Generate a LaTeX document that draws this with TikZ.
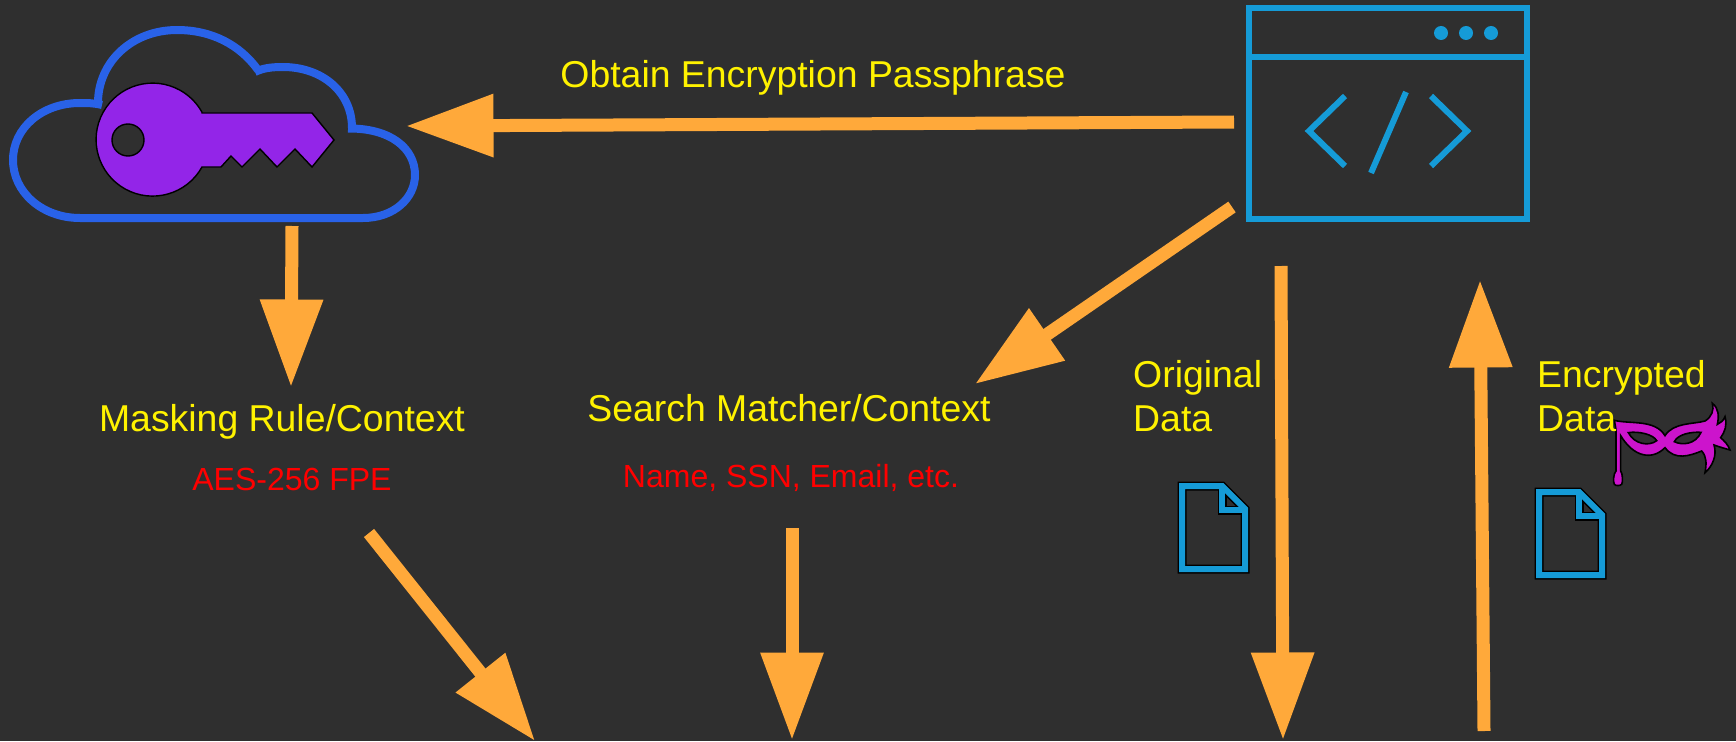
\documentclass[tikz,border=0pt]{standalone}
\usepackage{fontspec}
\setmainfont{Liberation Sans}
\usetikzlibrary{arrows.meta}
\definecolor{bgc}{HTML}{2F2F2F}
\definecolor{orangec}{HTML}{FFA93A}
\definecolor{cloudc}{HTML}{2962E8}
\definecolor{keyc}{HTML}{9325E8}
\definecolor{codec}{HTML}{159BD7}
\definecolor{maskc}{HTML}{CC14CC}
\tikzset{
  flow/.style={draw=orangec,line width=13pt,-{Triangle[length=87.5pt,width=60pt,fill=orangec]}},
  yellowtext/.style={text=yellow,font=\fontsize{37.4}{44}\selectfont,inner sep=0pt},
  yellowleft/.style={yellowtext,anchor=base west,align=left},
  redtext/.style={text=red,font=\fontsize{32}{38}\selectfont,inner sep=0pt},
  codeline/.style={draw=codec,line width=6pt,miter limit=10},
  cloudline/.style={draw=cloudc,line width=8pt,line join=miter},
  docicon/.pic={
    \draw[black,line width=9pt,line join=miter] (1182,486)--(1222,486)--(1245,509)--(1245,569)--(1182,569)--cycle;
    \draw[black,line width=9pt,line join=miter] (1222,486)--(1222,510)--(1245,510);
    \draw[codec,line width=6pt,line join=miter] (1182,486)--(1222,486)--(1245,509)--(1245,569)--(1182,569)--cycle;
    \draw[codec,line width=6pt,line join=miter] (1222,486)--(1222,510)--(1245,510);
  },
}
\begin{document}
\begin{tikzpicture}[x=1pt,y=-1pt]
\useasboundingbox (0,0) rectangle (1736,741);
\fill[bgc] (0,0) rectangle (1736,741);
% cloud
\draw[cloudline] (80,218) -- (363,218)
  .. controls (394,218) and (415,198) .. (415,175)
  .. controls (415,148) and (390,128) .. (348,128.5)
  (352,128) .. controls (352,92) and (322,67) .. (283,67)
  .. controls (272,67) and (263,68) .. (255,72)
  (258,70) .. controls (240,45) and (212,30) .. (177,30)
  .. controls (132,30) and (98,62) .. (98,103)
  (102,105) .. controls (94,103) and (87,103) .. (80,103)
  .. controls (42,103) and (13,128) .. (13,160)
  .. controls (13,192) and (42,218) .. (80,218);
% key
\path[draw=black,line width=1.4pt,fill=keyc,even odd rule]
  (202,113) -- (312,113) -- (334,140) -- (312,167) -- (295,149) -- (277,167) -- (260,149) -- (242,167) -- (231,156) -- (221,167) -- (202,167)
  arc[start angle=29,end angle=331,radius=56.5] -- cycle
  (128,140) circle[radius=16];
% code window
\draw[codeline] (1249,8) rectangle (1527,219);
\draw[codeline] (1249,57) -- (1527,57);
\fill[codec] (1441,33) circle[radius=7] (1466,33) circle[radius=7] (1491,33) circle[radius=7];
\draw[codeline] (1345,96) -- (1309,131) -- (1345,166);
\draw[codeline] (1431,96) -- (1467,131) -- (1431,166);
\draw[codeline] (1406,92) -- (1371,173);
% docs
\pic at (0,0) {docicon};
\pic at (357,6) {docicon};
% mask
\begin{scope}[shift={(1605,395)},x=0.3333pt,y=-0.3333pt]
\path[draw=black,line width=1.6pt,fill=maskc,even odd rule]
  (28,76) .. controls (75,88) and (150,72) .. (180,122)
  .. controls (205,82) and (265,88) .. (300,78)
  .. controls (320,66) and (328,45) .. (322,25)
  .. controls (342,40) and (342,65) .. (337,88)
  .. controls (347,83) and (355,78) .. (360,65)
  .. controls (367,90) and (360,110) .. (347,128)
  .. controls (358,138) and (370,150) .. (375,165)
  .. controls (358,160) and (340,155) .. (327,150)
  .. controls (337,180) and (322,215) .. (300,233)
  .. controls (305,205) and (305,185) .. (290,168)
  .. controls (255,182) and (210,198) .. (180,158)
  .. controls (140,198) and (85,185) .. (47,122)
  -- (47,228) .. controls (53,235) and (54,262) .. (50,268)
  .. controls (45,273) and (32,273) .. (28,268)
  .. controls (24,262) and (25,235) .. (33,228)
  -- (33,110) .. controls (33,100) and (30,88) .. (28,76) -- cycle
  (70,113) .. controls (100,108) and (145,118) .. (155,137)
  .. controls (132,155) and (88,148) .. (70,113) -- cycle
  (288,112) .. controls (258,110) and (218,118) .. (208,140)
  .. controls (232,152) and (272,148) .. (288,112) -- cycle;
\end{scope}
% labels
\node[yellowtext,anchor=base] (obtain) at (813,88) {Obtain Encryption Passphrase};
\node[yellowtext,anchor=base] (masking) at (282,431) {Masking Rule/Context};
\node[redtext,anchor=base] (aes) at (292,490) {AES-256 FPE};
\node[yellowtext,anchor=base] (search) at (789,421) {Search Matcher/Context};
\node[redtext,anchor=base] (name) at (791,487) {Name, SSN, Email, etc.};
\node[yellowleft] (orig1) at (1133,387) {Original};
\node[yellowleft] (orig2) at (1133,431) {Data};
\node[yellowleft] (enc1) at (1537,387) {Encrypted};
\node[yellowleft] (enc2) at (1537,431) {Data};
% arrow ends
\coordinate (a1s) at (1234,122); \coordinate (a1e) at (406,126);
\coordinate (a2s) at (292,226);  \coordinate (a2e) at (291,387);
\coordinate (a3s) at (1232,207); \coordinate (a3e) at (975,384);
\coordinate (a4s) at (792,528);  \coordinate (a4e) at (792,740);
\coordinate (a5s) at (369,533);  \coordinate (a5e) at (535,741);
\coordinate (a6s) at (1281,266); \coordinate (a6e) at (1283,740);
\coordinate (a7s) at (1484,731); \coordinate (a7e) at (1480,280);
\foreach \i in {1,...,7} \draw[flow] (a\i s) -- (a\i e);
\end{tikzpicture}
\end{document}
